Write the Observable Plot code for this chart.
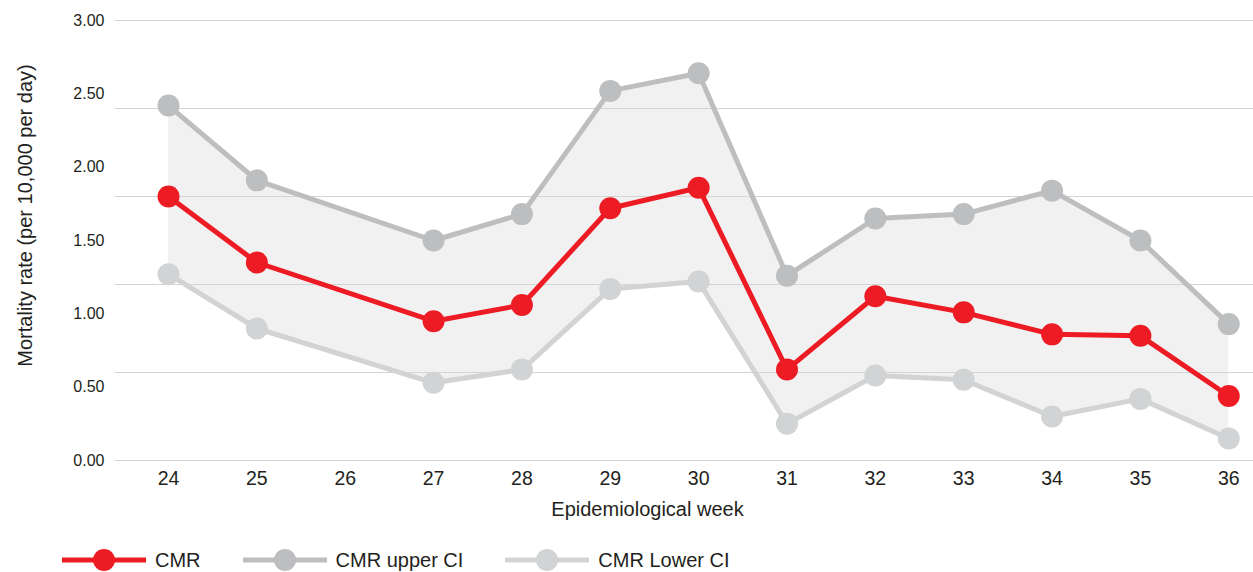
<!DOCTYPE html>
<html>
<head>
<meta charset="utf-8">
<script src="https://cdn.jsdelivr.net/npm/d3@7"></script>
<script src="https://cdn.jsdelivr.net/npm/@observablehq/plot@0.6"></script>
<style>
  body { margin: 0; background: #fff; font-family: "Liberation Sans", Arial, sans-serif; color: #231F20; }
  #legend { display: flex; align-items: center; height: 32px; padding-left: 62px; margin-top: 4px; }
  .item { display: flex; align-items: center; margin-right: 42px; font-size: 20px; }
  .item svg { margin-right: 9px; }
</style>
</head>
<body>
<div id="chart"></div>
<div id="legend"></div>
<script>
const weeks = [24, 25, 27, 28, 29, 30, 31, 32, 33, 34, 35, 36];
const cmr   = [1.80, 1.35, 0.95, 1.06, 1.72, 1.86, 0.62, 1.12, 1.01, 0.86, 0.85, 0.44];
const upper = [2.42, 1.91, 1.50, 1.68, 2.52, 2.64, 1.26, 1.65, 1.68, 1.84, 1.50, 0.93];
const lower = [1.27, 0.90, 0.53, 0.62, 1.17, 1.22, 0.25, 0.58, 0.55, 0.30, 0.42, 0.15];
const xTicks = [24, 25, 26, 27, 28, 29, 30, 31, 32, 33, 34, 35, 36];
const yTicks = [0, 0.5, 1, 1.5, 2, 2.5, 3];
const gridValues = [0, 0.6, 1.2, 1.8, 2.4, 3.0];
const seriesNames = ["CMR", "CMR upper CI", "CMR Lower CI"];
const seriesColors = ["#ED1C24", "#BDBEC0", "#D1D3D4"];
const xTitle = "Epidemiological week";
const yTitle = "Mortality rate (per 10,000 per day)";

const rows = weeks.map((w, i) => ({week: w, cmr: cmr[i], upper: upper[i], lower: lower[i]}));

const chart = Plot.plot({
  width: 1253,
  height: 540,
  marginLeft: 115,
  marginRight: 0,
  marginTop: 20,
  marginBottom: 80,
  style: {fontFamily: '"Liberation Sans", Arial, sans-serif', color: "#231F20", background: "#fff"},
  x: {domain: [23.4, 36.28]},
  y: {domain: [0, 3]},
  marks: [
    Plot.areaY(rows, {x: "week", y1: "lower", y2: "upper", fill: "#F1F1F1"}),
    Plot.ruleY(gridValues, {stroke: "#D4D4D4", strokeWidth: 1.2}),
    Plot.axisX(xTicks, {tickSize: 0, tickPadding: 11, fontSize: 19.5, label: null}),
    Plot.axisY(yTicks, {tickSize: 0, tickPadding: 11, fontSize: 16, label: null, tickFormat: d => d.toFixed(2)}),
    Plot.text([xTitle], {frameAnchor: "bottom", textAnchor: "middle", dx: -37, dy: 55, text: d => d, fontSize: 20, fill: "#231F20"}),
    Plot.text([yTitle], {frameAnchor: "left", textAnchor: "middle", dx: -90, dy: -25, rotate: -90, text: d => d, fontSize: 20, fill: "#231F20"}),
    Plot.line(rows, {x: "week", y: "lower", stroke: seriesColors[2], strokeWidth: 5}),
    Plot.dot(rows, {x: "week", y: "lower", r: 11, fill: seriesColors[2]}),
    Plot.line(rows, {x: "week", y: "upper", stroke: seriesColors[1], strokeWidth: 5}),
    Plot.dot(rows, {x: "week", y: "upper", r: 11, fill: seriesColors[1]}),
    Plot.line(rows, {x: "week", y: "cmr", stroke: seriesColors[0], strokeWidth: 5}),
    Plot.dot(rows, {x: "week", y: "cmr", r: 11, fill: seriesColors[0]})
  ]
});
document.getElementById("chart").appendChild(chart);

const legend = document.getElementById("legend");
seriesNames.forEach((name, i) => {
  const item = document.createElement("div");
  item.className = "item";
  item.innerHTML = `<svg width="84" height="24"><line x1="0" y1="12" x2="84" y2="12" stroke="${seriesColors[i]}" stroke-width="5" stroke-linecap="round"/><circle cx="42" cy="12" r="11" fill="${seriesColors[i]}"/></svg><span>${name}</span>`;
  legend.appendChild(item);
});
</script>
</body>
</html>
